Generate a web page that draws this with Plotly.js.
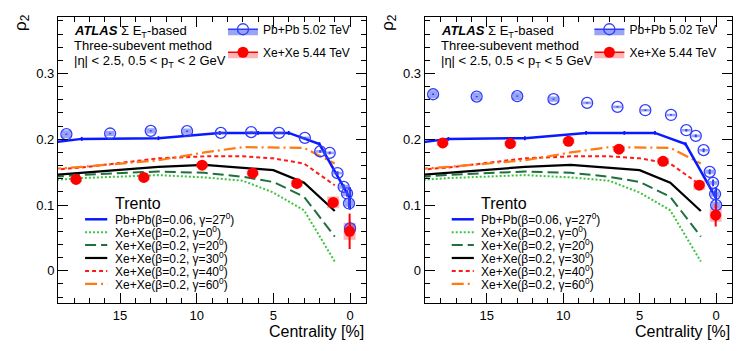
<!DOCTYPE html>
<html><head><meta charset="utf-8">
<script src="https://cdn.plot.ly/plotly-3.0.1.min.js"></script>
<style>html,body{margin:0;padding:0;background:#fff}#chart{width:747px;height:351px}</style>
</head><body><div id="chart"></div>
<script>
// ---------------- data ----------------
const pbCent = [18.5, 15.65, 13.0, 10.63, 8.43, 6.45, 4.63, 2.95, 1.95, 1.33, 0.82, 0.42, 0.2, 0.07, 0.0];
const pbRhoLow  = [0.2077, 0.2088, 0.2128, 0.2123, 0.2097, 0.2108, 0.2097, 0.2021, 0.1815, 0.1793, 0.1485, 0.1277, 0.1176, 0.1024, 0.0644];
const pbStatLow = [0.001, 0.001, 0.001, 0.001, 0.001, 0.001, 0.001, 0.001, 0.002, 0.002, 0.003, 0.004, 0.005, 0.007, 0.01];
const pbSystLow = [0.006, 0.004, 0.004, 0.004, 0.002, 0.002, 0.002, 0.002, 0.002, 0.002, 0.002, 0.003, 0.004, 0.005, 0.007];
const pbRhoHigh  = [0.2685, 0.265, 0.2655, 0.261, 0.2553, 0.2492, 0.2442, 0.237, 0.2138, 0.2052, 0.1834, 0.1505, 0.1337, 0.1166, 0.0998];
const pbStatHigh = [0.001, 0.001, 0.001, 0.001, 0.001, 0.001, 0.001, 0.001, 0.002, 0.002, 0.003, 0.004, 0.005, 0.006, 0.008];
const pbSystHigh = [0.006, 0.006, 0.006, 0.004, 0.002, 0.002, 0.002, 0.002, 0.002, 0.002, 0.002, 0.003, 0.003, 0.004, 0.005];

const xeCent = [17.87, 13.45, 9.65, 6.35, 3.47, 1.1, 0.03];
const xeRhoLow  = [0.139, 0.142, 0.1606, 0.1485, 0.1328, 0.104, 0.060];
const xeStatLow = [0.002, 0.002, 0.002, 0.003, 0.004, 0.007, 0.027];
const xeSystLow = [0.004, 0.004, 0.004, 0.004, 0.005, 0.009, 0.013];
const xeRhoHigh  = [0.1945, 0.1935, 0.197, 0.185, 0.1664, 0.1302, 0.0845];
const xeStatHigh = [0.002, 0.002, 0.002, 0.003, 0.004, 0.006, 0.017];
const xeSystHigh = [0.004, 0.004, 0.004, 0.004, 0.005, 0.007, 0.010];

const trPbCent = [22.5, 17.5, 12.5, 8.5, 6, 4, 2, 0];
const trPbRho  = [0.186, 0.2006, 0.2017, 0.2097, 0.2097, 0.2097, 0.1926, 0.11];
const trPbErr  = [0.003, 0.003, 0.003, 0.003, 0.003, 0.003, 0.003, 0.017];

const trXeCent = [22.5, 17.5, 12.5, 9.5, 7, 5, 3, 1];
const trXeG0  = [0.133, 0.141, 0.1455, 0.142, 0.137, 0.119, 0.092, 0.014];
const trXeG20 = [0.137, 0.146, 0.151, 0.149, 0.143, 0.135, 0.1125, 0.052];
const trXeG30 = [0.140, 0.149, 0.158, 0.161, 0.157, 0.153, 0.134, 0.091];
const trXeG40 = [0.148, 0.157, 0.171, 0.174, 0.174, 0.171, 0.163, 0.130];
const trXeG60 = [0.150, 0.158, 0.168, 0.180, 0.188, 0.188, 0.187, 0.163];

const dataNames = ['Pb+Pb 5.02 TeV', 'Xe+Xe 5.44 TeV'];
const trentoNames = [
  'Pb+Pb(β=0.06, γ=27<sup>0</sup>)',
  'Xe+Xe(β=0.2, γ=0<sup>0</sup>)',
  'Xe+Xe(β=0.2, γ=20<sup>0</sup>)',
  'Xe+Xe(β=0.2, γ=30<sup>0</sup>)',
  'Xe+Xe(β=0.2, γ=40<sup>0</sup>)',
  'Xe+Xe(β=0.2, γ=60<sup>0</sup>)'
];
const headerLines = ['<b><i>ATLAS</i></b> Σ E<sub>T</sub>-based', 'Three-subevent method'];
const kinLabels = ['|η| &lt; 2.5, 0.5 &lt; p<sub>T</sub> &lt; 2 GeV', '|η| &lt; 2.5, 0.5 &lt; p<sub>T</sub> &lt; 5 GeV'];
const xTitle = 'Centrality [%]';
const yTitle = 'ρ<sub>2</sub>';

// ---------------- styles ----------------
const FONT = 'Liberation Sans, Arial, Helvetica, sans-serif';
const BLUE = '#2f3cff', PBFILL = 'rgba(70,90,235,0.55)';
const RED = '#ff0000', XEFILL = 'rgba(255,60,60,0.38)';
const trStyles = [
  {color: '#0a1aff', width: 2.5, dash: 'solid'},
  {color: '#3cc43c', width: 2, dash: '2px,2px'},
  {color: '#1f6f3f', width: 2, dash: '11px,5px'},
  {color: '#000000', width: 2.2, dash: 'solid'},
  {color: '#ff1a1a', width: 2, dash: '4px,3px'},
  {color: '#ff7a10', width: 2.2, dash: '12px,4px,2px,4px'}
];
const trXeSets = [trXeG0, trXeG20, trXeG30, trXeG40, trXeG60];

const panels = [
  {xa: 'x', ya: 'y', leg: 'legend', pb: [pbRhoLow, pbStatLow, pbSystLow], xe: [xeRhoLow, xeStatLow, xeSystLow]},
  {xa: 'x2', ya: 'y2', leg: 'legend2', pb: [pbRhoHigh, pbStatHigh, pbSystHigh], xe: [xeRhoHigh, xeStatHigh, xeSystHigh]}
];

const traces = [];
const annotations = [];
const shapes = [];

panels.forEach((p, i) => {
  trXeSets.forEach((ys, k) => {
    const st = trStyles[k + 1];
    traces.push({type: 'scatter', mode: 'lines', x: trXeCent, y: ys, xaxis: p.xa, yaxis: p.ya,
      line: {color: st.color, width: st.width, dash: st.dash}, showlegend: false, hoverinfo: 'skip'});
  });
  traces.push({type: 'scatter', mode: 'lines', x: trPbCent, y: trPbRho, xaxis: p.xa, yaxis: p.ya,
    line: {color: trStyles[0].color, width: trStyles[0].width},
    error_y: {type: 'data', array: trPbErr, color: trStyles[0].color, thickness: 1.8, width: 0},
    showlegend: false, hoverinfo: 'skip'});
  traces.push({type: 'scatter', mode: 'markers', x: pbCent, y: p.pb[0], xaxis: p.xa, yaxis: p.ya,
    marker: {size: 1, color: 'rgba(0,0,0,0)'},
    error_y: {type: 'data', array: p.pb[2], color: PBFILL, thickness: 9, width: 0},
    showlegend: false, hoverinfo: 'skip'});
  traces.push({type: 'scatter', mode: 'markers', x: xeCent, y: p.xe[0], xaxis: p.xa, yaxis: p.ya,
    marker: {size: 1, color: 'rgba(0,0,0,0)'},
    error_y: {type: 'data', array: p.xe[2], color: XEFILL, thickness: 12, width: 0},
    showlegend: false, hoverinfo: 'skip'});
  traces.push({type: 'scatter', mode: 'markers', x: pbCent, y: p.pb[0], xaxis: p.xa, yaxis: p.ya,
    marker: {symbol: 'circle-open', size: 11, color: BLUE, line: {width: 1.3}},
    error_y: {type: 'data', array: p.pb[1], color: BLUE, thickness: 2, width: 0},
    showlegend: false});
  traces.push({type: 'scatter', mode: 'markers', x: xeCent, y: p.xe[0], xaxis: p.xa, yaxis: p.ya,
    marker: {symbol: 'circle', size: 11, color: RED},
    error_y: {type: 'data', array: p.xe[1], color: RED, thickness: 2, width: 0},
    showlegend: false});
  traces.push({type: 'scatter', mode: 'lines+markers', x: [null], y: [null], xaxis: p.xa, yaxis: p.ya,
    fill: 'toself', fillcolor: PBFILL, line: {color: BLUE, width: 1.5},
    marker: {symbol: 'circle-open', size: 11, color: BLUE, line: {width: 1.3}},
    name: dataNames[0], legend: p.leg, legendgroup: 'pb' + i, hoverinfo: 'skip'});
  traces.push({type: 'scatter', mode: 'lines+markers', x: [null], y: [null], xaxis: p.xa, yaxis: p.ya,
    fill: 'toself', fillcolor: XEFILL, line: {color: RED, width: 1.5},
    marker: {symbol: 'circle', size: 11, color: RED},
    name: dataNames[1], legend: p.leg, legendgroup: 'xe' + i, hoverinfo: 'skip'});

  const xd = p.xa + ' domain', yd = p.ya + ' domain';
  const hdr = headerLines.concat([kinLabels[i]]);
  const hdrY = [0.951, 0.8986, 0.8444];
  hdr.forEach((t, k) => annotations.push({text: t, xref: xd, yref: yd, x: 0.045, y: hdrY[k],
    xanchor: 'left', yanchor: 'middle', showarrow: false, font: {family: FONT, size: 13, color: '#000'}}));
  annotations.push({text: 'Trento', xref: xd, yref: yd, x: 0.178, y: 0.3486, xanchor: 'left', yanchor: 'middle',
    showarrow: false, font: {family: FONT, size: 16, color: '#000'}});
  trentoNames.forEach((t, k) => {
    const yPix = 219.3 + 12.9 * k;
    const yDom = (303 - yPix) / 286;
    annotations.push({text: t, xref: xd, yref: yd, x: 0.178, y: yDom, xanchor: 'left', yanchor: 'middle',
      showarrow: false, font: {family: FONT, size: 12, color: '#000'}});
    const st = trStyles[k];
    shapes.push({type: 'line', xref: xd, yref: yd, x0: 0.088, x1: 0.16, y0: yDom, y1: yDom,
      line: {color: st.color, width: st.width, dash: st.dash}});
  });
  annotations.push({text: xTitle, xref: xd, yref: 'paper', x: 1, y: 0.055, xanchor: 'right', yanchor: 'middle',
    showarrow: false, font: {family: FONT, size: 16, color: '#000'}});
  annotations.push({text: yTitle, xref: xd, yref: 'paper', x: -0.117, y: 0.937, xanchor: 'center', yanchor: 'middle',
    textangle: -90, showarrow: false, font: {family: FONT, size: 17, color: '#000'}});
});

function xAxis(domain, anchor) {
  return {domain: domain, anchor: anchor, range: [19.05, -1.04], autorange: false,
    tick0: 0, dtick: 5, ticks: 'inside', ticklen: 10, tickwidth: 1, tickcolor: '#000',
    minor: {dtick: 1, tick0: 0, ticks: 'inside', ticklen: 5, tickwidth: 1, tickcolor: '#000', showgrid: false},
    showline: true, linecolor: '#000', linewidth: 1, mirror: 'allticks', showgrid: false, zeroline: false,
    tickfont: {family: FONT, size: 13, color: '#000'}};
}
function yAxis(anchor) {
  return {domain: [0.1368, 0.9516], anchor: anchor, range: [-0.049, 0.386], autorange: false,
    tick0: 0, dtick: 0.1, ticks: 'inside', ticklen: 10, tickwidth: 1, tickcolor: '#000',
    minor: {dtick: 0.02, tick0: 0, ticks: 'inside', ticklen: 5, tickwidth: 1, tickcolor: '#000', showgrid: false},
    showline: true, linecolor: '#000', linewidth: 1, mirror: 'allticks', showgrid: false, zeroline: false,
    tickfont: {family: FONT, size: 13, color: '#000'}};
}

const legendBase = {xanchor: 'left', yanchor: 'top', y: 0.958, bgcolor: 'rgba(0,0,0,0)', borderwidth: 0,
  traceorder: 'grouped', tracegroupgap: 4, font: {family: FONT, size: 12, color: '#000'}};

const layout = {
  width: 747, height: 351, margin: {l: 0, r: 0, t: 0, b: 0, pad: 0},
  paper_bgcolor: '#fff', plot_bgcolor: '#fff', showlegend: true,
  font: {family: FONT, color: '#000'},
  xaxis: xAxis([0.0776, 0.49], 'y'), yaxis: yAxis('x'),
  xaxis2: xAxis([0.5685, 0.98], 'y2'), yaxis2: yAxis('x2'),
  legend: Object.assign({}, legendBase, {x: 0.2985}),
  legend2: Object.assign({}, legendBase, {x: 0.789}),
  annotations: annotations, shapes: shapes
};

Plotly.newPlot('chart', traces, layout, {staticPlot: true, displayModeBar: false});
</script></body></html>
